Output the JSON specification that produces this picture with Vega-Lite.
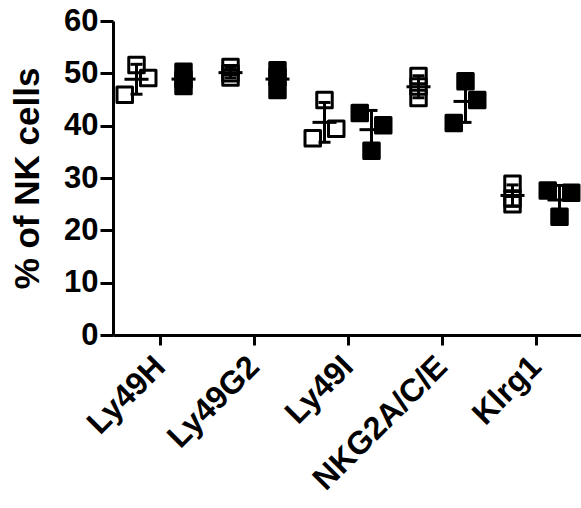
{
  "$schema": "https://vega.github.io/schema/vega-lite/v6.json",
  "width": 470,
  "height": 314,
  "autosize": "none",
  "padding": {"left": 113, "top": 21, "right": 0, "bottom": 173},
  "config": {"view": {"stroke": null}, "font": "Liberation Sans"},
  "data": {
    "values": [
      {"marker": "Ly49H", "group": "open", "slot": "oC", "value": 51.6},
      {"marker": "Ly49H", "group": "open", "slot": "oR", "value": 49.1},
      {"marker": "Ly49H", "group": "open", "slot": "oL", "value": 45.9},
      {"marker": "Ly49H", "group": "filled", "slot": "fC", "value": 50.3},
      {"marker": "Ly49H", "group": "filled", "slot": "fC", "value": 48.8},
      {"marker": "Ly49H", "group": "filled", "slot": "fC", "value": 47.6},
      {"marker": "Ly49G2", "group": "open", "slot": "oC", "value": 51.2},
      {"marker": "Ly49G2", "group": "open", "slot": "oC", "value": 50.0},
      {"marker": "Ly49G2", "group": "open", "slot": "oC", "value": 49.2},
      {"marker": "Ly49G2", "group": "filled", "slot": "fC", "value": 50.6},
      {"marker": "Ly49G2", "group": "filled", "slot": "fC", "value": 49.3},
      {"marker": "Ly49G2", "group": "filled", "slot": "fC", "value": 46.8},
      {"marker": "Ly49I", "group": "open", "slot": "oC", "value": 44.9},
      {"marker": "Ly49I", "group": "open", "slot": "oR", "value": 39.4},
      {"marker": "Ly49I", "group": "open", "slot": "oL", "value": 37.6},
      {"marker": "Ly49I", "group": "filled", "slot": "fL", "value": 42.4},
      {"marker": "Ly49I", "group": "filled", "slot": "fR", "value": 40.1},
      {"marker": "Ly49I", "group": "filled", "slot": "fC", "value": 35.2},
      {"marker": "NKG2A/C/E", "group": "open", "slot": "oC", "value": 49.5},
      {"marker": "NKG2A/C/E", "group": "open", "slot": "oC", "value": 47.5},
      {"marker": "NKG2A/C/E", "group": "open", "slot": "oC", "value": 45.3},
      {"marker": "NKG2A/C/E", "group": "filled", "slot": "fC", "value": 48.5},
      {"marker": "NKG2A/C/E", "group": "filled", "slot": "fR", "value": 44.9},
      {"marker": "NKG2A/C/E", "group": "filled", "slot": "fL", "value": 40.5},
      {"marker": "Klrg1", "group": "open", "slot": "oC", "value": 28.9},
      {"marker": "Klrg1", "group": "open", "slot": "oC", "value": 26.1},
      {"marker": "Klrg1", "group": "open", "slot": "oC", "value": 25.0},
      {"marker": "Klrg1", "group": "filled", "slot": "fL", "value": 27.6},
      {"marker": "Klrg1", "group": "filled", "slot": "fR", "value": 27.2},
      {"marker": "Klrg1", "group": "filled", "slot": "fC", "value": 22.6}
    ]
  },
  "layer": [
    {
      "mark": {"type": "square", "size": 240, "stroke": "black", "strokeWidth": 3, "strokeJoin": "round", "opacity": 1},
      "encoding": {
        "x": {
          "field": "marker",
          "type": "nominal",
          "sort": ["Ly49H", "Ly49G2", "Ly49I", "NKG2A/C/E", "Klrg1"],
          "scale": {"paddingInner": 0, "paddingOuter": 0},
          "axis": {
            "title": null,
            "labelAngle": -45,
            "labelAlign": "right",
            "labelBaseline": "middle",
            "labelFontSize": 32,
            "labelFontWeight": "bold",
            "labelColor": "black",
            "labelPadding": 16,
            "labelLimit": 400,
            "labelOverlap": false,
            "domainColor": "black",
            "domainWidth": 3,
            "tickColor": "black",
            "tickWidth": 3,
            "tickSize": 10
          }
        },
        "xOffset": {
          "field": "slot",
          "type": "nominal",
          "scale": {"type": "point", "domain": ["oL", "oC", "oR", "gap", "fL", "fC", "fR"], "padding": 2.53}
        },
        "y": {
          "field": "value",
          "type": "quantitative",
          "scale": {"domain": [0, 60], "nice": false},
          "axis": {
            "title": "% of NK cells",
            "titleFontSize": 35,
            "titleFontWeight": "bold",
            "titleColor": "black",
            "titlePadding": 18,
            "labelFontSize": 31,
            "labelFontWeight": "bold",
            "labelColor": "black",
            "labelPadding": 2,
            "values": [0, 10, 20, 30, 40, 50, 60],
            "grid": false,
            "domainColor": "black",
            "domainWidth": 3,
            "tickColor": "black",
            "tickWidth": 3,
            "tickSize": 13
          }
        },
        "fill": {
          "field": "group",
          "type": "nominal",
          "scale": {"domain": ["open", "filled"], "range": ["rgba(0,0,0,0)", "black"]},
          "legend": null
        }
      }
    },
    {
      "transform": [
        {"aggregate": [{"op": "mean", "field": "value", "as": "mean"}, {"op": "stdev", "field": "value", "as": "sd"}], "groupby": ["marker", "group"]},
        {"calculate": "datum.mean - datum.sd", "as": "lo"},
        {"calculate": "datum.mean + datum.sd", "as": "hi"},
        {"calculate": "datum.group == 'open' ? 'oC' : 'fC'", "as": "slot"}
      ],
      "encoding": {
        "x": {"field": "marker", "type": "nominal", "sort": ["Ly49H", "Ly49G2", "Ly49I", "NKG2A/C/E", "Klrg1"]},
        "xOffset": {"field": "slot", "type": "nominal"}
      },
      "layer": [
        {
          "mark": {"type": "rule", "color": "black", "strokeWidth": 3},
          "encoding": {"y": {"field": "lo", "type": "quantitative"}, "y2": {"field": "hi"}}
        },
        {
          "mark": {"type": "tick", "color": "black", "thickness": 3, "size": 24, "opacity": 1},
          "encoding": {"y": {"field": "mean", "type": "quantitative"}}
        },
        {
          "mark": {"type": "tick", "color": "black", "thickness": 3, "size": 12, "opacity": 1},
          "encoding": {"y": {"field": "lo", "type": "quantitative"}}
        },
        {
          "mark": {"type": "tick", "color": "black", "thickness": 3, "size": 12, "opacity": 1},
          "encoding": {"y": {"field": "hi", "type": "quantitative"}}
        }
      ]
    }
  ]
}
